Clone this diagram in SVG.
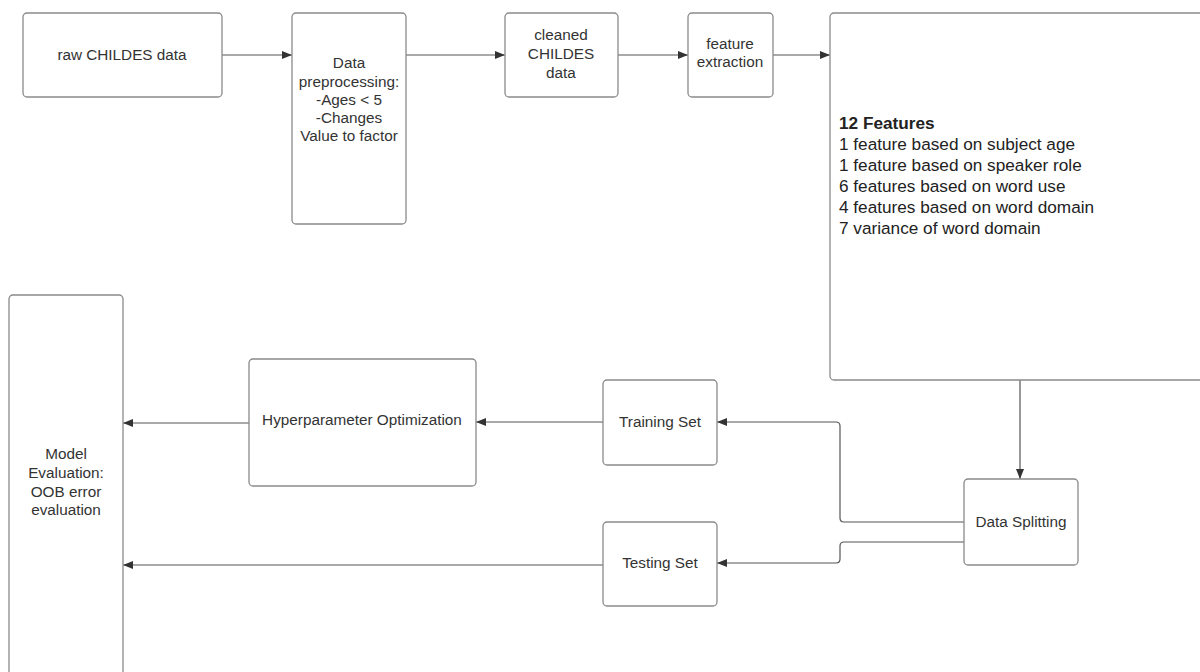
<svg xmlns="http://www.w3.org/2000/svg" width="1200" height="672" viewBox="0 0 1200 672">
<style>
.box{fill:#fff;stroke:#8a8a8a;stroke-width:1.3}
.t{font-family:"Liberation Sans",Arial,sans-serif;font-size:15.3px;fill:#333;text-anchor:middle}
.f{font-family:"Liberation Sans",Arial,sans-serif;font-size:17.2px;fill:#222}
.c{fill:none;stroke:#555;stroke-width:1.2}
</style>
<defs>
<marker id="ah" viewBox="0 0 10 8" refX="10" refY="4" markerWidth="10" markerHeight="8" markerUnits="userSpaceOnUse" orient="auto">
<path d="M0,0 L10,4 L0,8 Z" fill="#333"/>
</marker>
</defs>
<rect width="1200" height="672" fill="#fff"/>
<g id="connectors">
<path class="c" d="M222,55 H292" marker-end="url(#ah)"/>
<path class="c" d="M406,55 H505" marker-end="url(#ah)"/>
<path class="c" d="M618,55 H688" marker-end="url(#ah)"/>
<path class="c" d="M773,55 H830" marker-end="url(#ah)"/>
<path class="c" d="M1020,380 V479" marker-end="url(#ah)"/>
<path class="c" d="M964,522 H844 Q840,522 840,518 V426 Q840,422 836,422 H717" marker-end="url(#ah)"/>
<path class="c" d="M964,542 H844 Q840,542 840,546 V559 Q840,563 836,563 H717" marker-end="url(#ah)"/>
<path class="c" d="M603,422 H476" marker-end="url(#ah)"/>
<path class="c" d="M249,423 H123" marker-end="url(#ah)"/>
<path class="c" d="M603,565 H123" marker-end="url(#ah)"/>
</g>
<g id="raw">
<rect class="box" x="23" y="13" width="199" height="84" rx="4"/>
<text class="t" x="122" y="60">raw CHILDES data</text>
</g>
<g id="preprocessing">
<rect class="box" x="292" y="13" width="114" height="211" rx="4"/>
<text class="t" x="349" y="68">Data</text>
<text class="t" x="349" y="87">preprocessing:</text>
<text class="t" x="349" y="105">-Ages &lt; 5</text>
<text class="t" x="349" y="123">-Changes</text>
<text class="t" x="349" y="141">Value to factor</text>
</g>
<g id="cleaned">
<rect class="box" x="505" y="13" width="113" height="84" rx="4"/>
<text class="t" x="561" y="40">cleaned</text>
<text class="t" x="561" y="59">CHILDES</text>
<text class="t" x="561" y="78">data</text>
</g>
<g id="extraction">
<rect class="box" x="688" y="13" width="85" height="84" rx="4"/>
<text class="t" x="730" y="49">feature</text>
<text class="t" x="730" y="67">extraction</text>
</g>
<g id="features">
<rect class="box" x="830" y="13" width="380" height="367" rx="4"/>
<text class="f" x="839" y="129" font-weight="bold">12 Features</text>
<text class="f" x="839" y="150">1 feature based on subject age</text>
<text class="f" x="839" y="171">1 feature based on speaker role</text>
<text class="f" x="839" y="192">6 features based on word use</text>
<text class="f" x="839" y="213">4 features based on word domain</text>
<text class="f" x="839" y="234">7 variance of word domain</text>
</g>
<g id="splitting">
<rect class="box" x="964" y="479" width="114" height="86" rx="4"/>
<text class="t" x="1021" y="527">Data Splitting</text>
</g>
<g id="training">
<rect class="box" x="603" y="380" width="114" height="85" rx="4"/>
<text class="t" x="660" y="427">Training Set</text>
</g>
<g id="testing">
<rect class="box" x="603" y="522" width="114" height="84" rx="4"/>
<text class="t" x="660" y="568">Testing Set</text>
</g>
<g id="hyper">
<rect class="box" x="249" y="359" width="227" height="127" rx="4"/>
<text class="t" x="362" y="425">Hyperparameter Optimization</text>
</g>
<g id="evaluation">
<rect class="box" x="9" y="295" width="114" height="390" rx="4"/>
<text class="t" x="66" y="459">Model</text>
<text class="t" x="66" y="478">Evaluation:</text>
<text class="t" x="66" y="497">OOB error</text>
<text class="t" x="66" y="515">evaluation</text>
</g>
</svg>
